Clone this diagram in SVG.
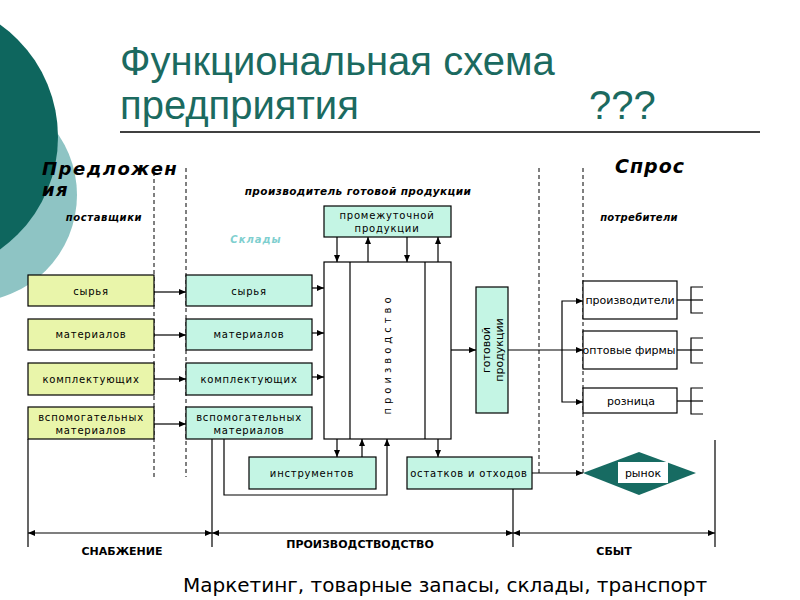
<svg xmlns="http://www.w3.org/2000/svg" width="800" height="600" viewBox="0 0 800 600">
<style>
.bx{stroke:#000;stroke-width:1.2}
.y{fill:#E9F5AA}
.m{fill:#C4F5E4}
.w{fill:#fff}
.t{font-family:"DejaVu Sans",Verdana,sans-serif;font-size:10px;letter-spacing:0.8px;text-anchor:middle;fill:#000}
.t2{font-family:"DejaVu Sans",Verdana,sans-serif;font-size:11px;text-anchor:middle;fill:#000}
.hd{font-family:"DejaVu Sans",Verdana,sans-serif;font-weight:bold;font-style:italic;fill:#000}
.sec{font-family:"DejaVu Sans",Verdana,sans-serif;font-weight:bold;font-size:11px;text-anchor:middle;fill:#000}
.ln{stroke:#000;stroke-width:1.2;fill:none}
.da{stroke:#000;stroke-width:1;stroke-dasharray:4,3;fill:none}
.ar{marker-end:url(#ah)}
.dd{marker-start:url(#ah);marker-end:url(#ah)}
.ttl{font-family:"Liberation Sans",Arial,sans-serif;font-size:40px;fill:#1B6A60}
</style>
<defs>
<marker id="ah" markerUnits="userSpaceOnUse" markerWidth="7" markerHeight="6" refX="7" refY="3" orient="auto-start-reverse"><path d="M0,0 L7,3 L0,6 z" fill="#000"/></marker>
</defs>
<rect width="800" height="600" fill="#fff"/>
<g id="background">
<circle cx="-30" cy="195" r="107" fill="#8EC4C4"/>
<circle cx="-80" cy="137" r="138" fill="#0E665E"/>
</g>
<g id="title">
<text class="ttl" x="120" y="75">Функциональная схема</text>
<text class="ttl" x="120" y="119">предприятия</text>
<text class="ttl" x="589" y="119">???</text>
<line x1="120" y1="132" x2="760" y2="132" stroke="#000" stroke-width="1.5"/>
</g>
<g id="headings">
<text class="hd" x="42" y="175" font-size="18" letter-spacing="1.5">Предложен</text>
<text class="hd" x="42" y="196" font-size="18" letter-spacing="1.5">ия</text>
<text class="hd" x="615" y="173" font-size="19" letter-spacing="1">Спрос</text>
<text class="hd" x="358" y="195" font-size="10.5" letter-spacing="0.4" text-anchor="middle">производитель готовой продукции</text>
<text class="hd" x="104" y="221" font-size="10" letter-spacing="0.6" text-anchor="middle">поставщики</text>
<text class="hd" x="639" y="221" font-size="10" letter-spacing="0.3" text-anchor="middle">потребители</text>
<text class="hd" x="256" y="243" font-size="10" text-anchor="middle" letter-spacing="1" style="fill:#7FCFCF">Склады</text>
</g>
<g id="dividers">
<line class="da" x1="154" y1="172" x2="154" y2="477"/>
<line class="da" x1="186" y1="168" x2="186" y2="477"/>
<line class="da" x1="539" y1="168" x2="539" y2="476"/>
<line class="da" x1="583" y1="168" x2="583" y2="476"/>
</g>
<g id="connectors">
<line class="ln ar" x1="154" y1="292" x2="186" y2="292"/>
<line class="ln ar" x1="154" y1="335" x2="186" y2="335"/>
<line class="ln ar" x1="154" y1="379" x2="186" y2="379"/>
<line class="ln ar" x1="154" y1="424" x2="186" y2="424"/>
<line class="ln ar" x1="312" y1="288" x2="324" y2="288"/>
<line class="ln ar" x1="312" y1="333" x2="324" y2="333"/>
<line class="ln ar" x1="312" y1="377" x2="324" y2="377"/>
<line class="ln ar" x1="337" y1="237" x2="337" y2="262"/>
<line class="ln ar" x1="368" y1="262" x2="368" y2="237"/>
<line class="ln ar" x1="407" y1="237" x2="407" y2="262"/>
<line class="ln ar" x1="438" y1="262" x2="438" y2="237"/>
<line class="ln ar" x1="337" y1="439" x2="337" y2="457"/>
<line class="ln ar" x1="362" y1="457" x2="362" y2="439"/>
<polyline class="ln ar" points="224,439 224,495 387,495 387,439"/>
<line class="ln ar" x1="438" y1="439" x2="438" y2="457"/>
<line class="ln ar" x1="451" y1="350" x2="476" y2="350"/>
<line class="ln ar" x1="508" y1="350" x2="583" y2="350"/>
<polyline class="ln ar" points="562,350 562,301 583,301"/>
<polyline class="ln ar" points="562,350 562,402 583,402"/>
<line class="ln ar" x1="532" y1="473" x2="583" y2="473"/>
<line class="ln" x1="677" y1="300" x2="703" y2="300"/>
<polyline class="ln" points="703,287 691,287 691,313 703,313"/>
<line class="ln" x1="677" y1="350" x2="703" y2="350"/>
<polyline class="ln" points="703,338 691,338 691,363 703,363"/>
<line class="ln" x1="677" y1="401" x2="703" y2="401"/>
<polyline class="ln" points="703,388 691,388 691,414 703,414"/>
<line class="ln" x1="28" y1="439" x2="28" y2="547"/>
<line class="ln" x1="212" y1="439" x2="212" y2="547"/>
<line class="ln" x1="513" y1="489" x2="513" y2="547"/>
<line class="ln" x1="715" y1="440" x2="715" y2="547"/>
<line class="ln dd" x1="28" y1="533" x2="212" y2="533"/>
<line class="ln dd" x1="212" y1="533" x2="513" y2="533"/>
<line class="ln dd" x1="513" y1="533" x2="715" y2="533"/>
</g>
<g id="n-syr1"><rect class="bx y" x="28" y="275" width="126" height="31"/><text class="t" x="91" y="295">сырья</text></g>
<g id="n-mat1"><rect class="bx y" x="28" y="319" width="126" height="31"/><text class="t" x="91" y="338">материалов</text></g>
<g id="n-kom1"><rect class="bx y" x="28" y="363" width="126" height="32"/><text class="t" x="91" y="383">комплектующих</text></g>
<g id="n-vsp1"><rect class="bx y" x="28" y="407" width="126" height="32"/><text class="t" x="91" y="421">вспомогательных</text><text class="t" x="91" y="434">материалов</text></g>
<g id="n-syr2"><rect class="bx m" x="186" y="275" width="126" height="31"/><text class="t" x="249" y="295">сырья</text></g>
<g id="n-mat2"><rect class="bx m" x="186" y="319" width="126" height="31"/><text class="t" x="249" y="338">материалов</text></g>
<g id="n-kom2"><rect class="bx m" x="186" y="363" width="126" height="32"/><text class="t" x="249" y="383">комплектующих</text></g>
<g id="n-vsp2"><rect class="bx m" x="186" y="407" width="126" height="32"/><text class="t" x="249" y="421">вспомогательных</text><text class="t" x="249" y="434">материалов</text></g>
<g id="n-prom"><rect class="bx m" x="324" y="206" width="127" height="31"/><text class="t" x="387" y="219">промежуточной</text><text class="t" x="387" y="232">продукции</text></g>
<g id="n-proizv"><rect class="bx w" x="324" y="262" width="127" height="177"/><line class="ln" x1="350" y1="262" x2="350" y2="439"/><line class="ln" x1="425" y1="262" x2="425" y2="439"/><text class="t" style="letter-spacing:4px" transform="translate(391,354) rotate(-90)">производство</text></g>
<g id="n-gotov"><rect class="bx m" x="476" y="287" width="32" height="126"/><text class="t2" transform="translate(490,350) rotate(-90)">готовой</text><text class="t2" transform="translate(503,350) rotate(-90)">продукции</text></g>
<g id="n-instr"><rect class="bx m" x="249" y="457" width="127" height="32"/><text class="t" x="312" y="477">инструментов</text></g>
<g id="n-ost"><rect class="bx m" x="407" y="457" width="125" height="32"/><text class="t" x="469" y="477">остатков и отходов</text></g>
<g id="n-pr"><rect class="bx w" x="583" y="281" width="94" height="38"/><text class="t2" x="630" y="304">производители</text></g>
<g id="n-opt"><rect class="bx w" x="583" y="331" width="94" height="38"/><text class="t2" x="629" y="354">оптовые фирмы</text></g>
<g id="n-roz"><rect class="bx w" x="583" y="388" width="94" height="25"/><text class="t2" x="631" y="405">розница</text></g>
<g id="n-rynok"><polygon points="583,473 639,452 696,473 639,495" fill="#176B62"/><rect x="618" y="462" width="50" height="21" fill="#fff"/><text class="t2" x="643" y="477">рынок</text></g>
<g id="labels">
<text class="sec" x="122" y="555">СНАБЖЕНИЕ</text>
<text class="sec" x="360" y="548">ПРОИЗВОДСТВОДСТВО</text>
<text class="sec" x="614" y="555">СБЫТ</text>
<text x="183" y="592" font-family="'DejaVu Sans',Verdana,sans-serif" font-size="20" fill="#000">Маркетинг, товарные запасы, склады, транспорт</text>
</g>
</svg>
